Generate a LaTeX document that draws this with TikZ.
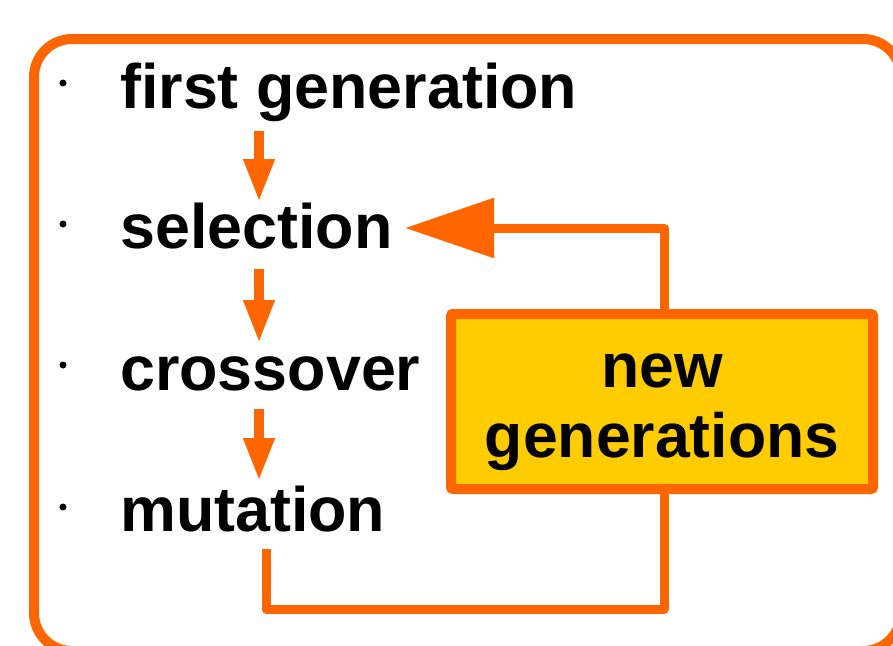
\documentclass[tikz,border=0pt]{standalone}
\usepackage{fontspec}
\setmainfont{Liberation Sans}
\usetikzlibrary{arrows.meta,calc}
\definecolor{orng}{HTML}{FF6600}
\definecolor{ylw}{HTML}{FFCC00}
\begin{document}
\begin{tikzpicture}[x=1pt,y=-1pt,
  item/.style={anchor=base west,inner sep=0pt,font=\fontsize{62.8}{70}\selectfont\bfseries},
  dot/.style={circle,fill=black,inner sep=0pt,minimum size=7pt},
  frame/.style={draw=orng,line width=10pt,rounded corners=38pt},
  downarr/.style={draw=orng,line width=10pt,-{Triangle[length=43pt,width=29pt]}},
  loopline/.style={draw=orng,line width=9pt,line join=round},
  bigarr/.style={loopline,-{Triangle[length=89pt,width=58pt]}},
  ngbox/.style={draw=orng,fill=ylw,line width=10pt,rounded corners=2pt,minimum width=422pt,minimum height=175pt,
    align=center,inner sep=0pt,text height=126pt,font=\fontsize{62.5}{70}\selectfont\bfseries}]
\useasboundingbox (0,0) rectangle (893,645);
\clip (0,0) rectangle (893,645);
\draw[frame] (34,39) rectangle (901,651);
% bullets
\node[dot] (b1) at (63,83) {};
\node[dot] (b2) at (63,224) {};
\node[dot] (b3) at (63,365) {};
\node[dot] (b4) at (63,507) {};
% items
\node[item] (first) at (120,108) {first generation};
\node[item] (sel) at (120,248) {selection};
\node[item] (cross) at (120,390) {crossover};
\node[item] (mut) at (120,531) {mutation};
% new generations box
\node[ngbox] (ng) at (662,401.5) {new\\generations};
% down arrows
\draw[downarr] ($(first.base west)+(139,23)$) -- ($(sel.base west)+(139,-46)$);
\draw[downarr] ($(sel.base west)+(139,21)$) -- ($(cross.base west)+(139,-47)$);
\draw[downarr] ($(cross.base west)+(139,19)$) -- ($(mut.base west)+(139,-50)$);
% feedback loop
\draw[loopline] ($(mut.base west)+(146,18)$) -- ++(0,60) -| ([xshift=2pt]ng.south);
\draw[bigarr] ([xshift=2pt]ng.north) |- ($(sel.base west)+(285,-20)$);
\end{tikzpicture}
\end{document}
